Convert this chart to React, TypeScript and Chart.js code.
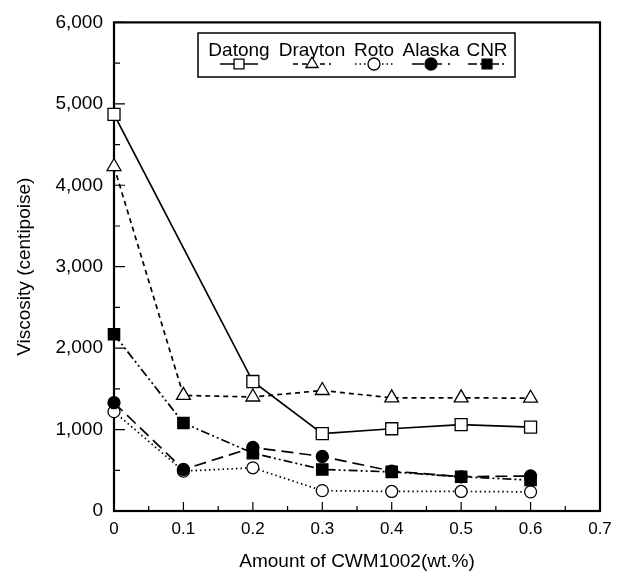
import React, { useEffect, useRef } from 'react';
import { Chart, registerables } from 'chart.js';

Chart.register(...registerables);

const seriesNames = ['Datong', 'Drayton', 'Roto', 'Alaska', 'CNR'];
const datongX = [0, 0.2, 0.3, 0.4, 0.5, 0.6];
const datongY = [4870, 1590, 950, 1010, 1060, 1030];
const commonX = [0, 0.1, 0.2, 0.3, 0.4, 0.5, 0.6];
const draytonY = [4230, 1420, 1400, 1480, 1390, 1390, 1385];
const rotoY = [1220, 490, 530, 250, 240, 240, 235];
const alaskaY = [1330, 510, 780, 670, 490, 420, 430];
const cnrY = [2170, 1080, 710, 510, 480, 420, 380];

const xTicks = [0, 0.1, 0.2, 0.3, 0.4, 0.5, 0.6, 0.7];
const xTickLabels = ['0', '0.1', '0.2', '0.3', '0.4', '0.5', '0.6', '0.7'];
const yTicks = [0, 1000, 2000, 3000, 4000, 5000, 6000];
const yTickLabels = ['0', '1,000', '2,000', '3,000', '4,000', '5,000', '6,000'];

const FONT = '"Liberation Sans", Arial, Helvetica, sans-serif';

type Style = {
  dash: number[];
  point: string;
  fill: string;
  radius: number;
  order: number;
};

const styles: Style[] = [
  { dash: [], point: 'rect', fill: '#fff', radius: 8.5, order: 2 },
  { dash: [5, 4], point: 'triangle', fill: '#fff', radius: 8, order: 3 },
  { dash: [1.5, 3], point: 'circle', fill: '#fff', radius: 6, order: 4 },
  { dash: [12, 6], point: 'circle', fill: '#000', radius: 6, order: 0 },
  { dash: [9, 3, 2, 3, 2, 3], point: 'rect', fill: '#000', radius: 8, order: 1 },
];

function pts(xs: number[], ys: number[]) {
  return xs.map((x, i) => ({ x, y: ys[i] }));
}

function drawMarker(ctx: CanvasRenderingContext2D, kind: string, x: number, y: number, r: number, fill: string) {
  ctx.save();
  ctx.setLineDash([]);
  ctx.fillStyle = fill;
  ctx.strokeStyle = '#000';
  ctx.lineWidth = 1.3;
  ctx.beginPath();
  if (kind === 'rect') {
    const s = Math.SQRT1_2 * r;
    ctx.rect(x - s, y - s, 2 * s, 2 * s);
  } else if (kind === 'triangle') {
    for (let k = 0; k < 3; k++) {
      const ang = -Math.PI / 2 + (k * 2 * Math.PI) / 3;
      const px = x + r * Math.cos(ang);
      const py = y + r * Math.sin(ang);
      if (k === 0) ctx.moveTo(px, py);
      else ctx.lineTo(px, py);
    }
    ctx.closePath();
  } else {
    ctx.arc(x, y, r, 0, Math.PI * 2);
  }
  ctx.fill();
  ctx.stroke();
  ctx.restore();
}

const axesPlugin = {
  id: 'axesFrame',
  beforeDatasetsDraw(chart: any) {
    const { ctx, chartArea: a, scales } = chart;
    const xs = scales.x;
    const ys = scales.y;
    ctx.save();
    ctx.strokeStyle = '#000';
    ctx.lineWidth = 2.2;
    ctx.strokeRect(a.left, a.top, a.right - a.left, a.bottom - a.top);
    ctx.lineWidth = 1.2;
    ctx.beginPath();
    for (let i = 0; i < yTicks.length; i++) {
      const py = ys.getPixelForValue(yTicks[i]);
      ctx.moveTo(a.left, py);
      ctx.lineTo(a.left + 11, py);
      if (i < yTicks.length - 1) {
        const pm = ys.getPixelForValue((yTicks[i] + yTicks[i + 1]) / 2);
        ctx.moveTo(a.left, pm);
        ctx.lineTo(a.left + 6, pm);
      }
    }
    for (let i = 0; i < xTicks.length; i++) {
      const px = xs.getPixelForValue(xTicks[i]);
      ctx.moveTo(px, a.bottom);
      ctx.lineTo(px, a.bottom - 9);
      if (i < xTicks.length - 1) {
        const pm = xs.getPixelForValue((xTicks[i] + xTicks[i + 1]) / 2);
        ctx.moveTo(pm, a.bottom);
        ctx.lineTo(pm, a.bottom - 5);
      }
    }
    ctx.stroke();
    ctx.restore();
  },
};

const legendPlugin = {
  id: 'customLegend',
  afterDraw(chart: any) {
    const { ctx } = chart;
    const box = { x: 198, y: 33, w: 317, h: 44 };
    const centers = [239, 312, 374, 431, 487];
    ctx.save();
    ctx.fillStyle = '#fff';
    ctx.fillRect(box.x, box.y, box.w, box.h);
    ctx.strokeStyle = '#000';
    ctx.lineWidth = 1.5;
    ctx.strokeRect(box.x, box.y, box.w, box.h);
    ctx.fillStyle = '#000';
    ctx.font = `19px ${FONT}`;
    ctx.textAlign = 'center';
    ctx.textBaseline = 'alphabetic';
    seriesNames.forEach((name, i) => {
      ctx.fillText(name, centers[i], 56);
    });
    seriesNames.forEach((_, i) => {
      const st = styles[i];
      const cx = centers[i];
      ctx.save();
      ctx.lineWidth = 1.6;
      ctx.setLineDash(st.dash);
      ctx.beginPath();
      ctx.moveTo(cx - 19, 64);
      ctx.lineTo(cx + 19, 64);
      ctx.stroke();
      ctx.restore();
      drawMarker(ctx, st.point, cx, 64, st.point === 'triangle' ? 7 : st.point === 'rect' ? 7 : 6, st.fill);
    });
    ctx.restore();
  },
};

export default function App() {
  const ref = useRef<HTMLCanvasElement | null>(null);

  useEffect(() => {
    if (!ref.current) return;
    const ys = [datongY, draytonY, rotoY, alaskaY, cnrY];
    const xsArr = [datongX, commonX, commonX, commonX, commonX];
    const datasets = seriesNames.map((name, i) => ({
      label: name,
      data: pts(xsArr[i], ys[i]),
      borderColor: '#000',
      borderWidth: 1.7,
      borderDash: styles[i].dash,
      pointStyle: styles[i].point,
      pointRadius: styles[i].radius,
      pointBackgroundColor: styles[i].fill,
      pointBorderColor: '#000',
      pointBorderWidth: 1.3,
      fill: false,
      tension: 0,
      clip: false as any,
      order: styles[i].order,
    }));

    const chart = new Chart(ref.current, {
      type: 'line',
      data: { datasets },
      plugins: [axesPlugin, legendPlugin],
      options: {
        animation: false,
        responsive: false,
        maintainAspectRatio: false,
        layout: { padding: { left: 0, top: 16, right: 27, bottom: 0 } },
        plugins: { legend: { display: false }, tooltip: { enabled: false } },
        scales: {
          x: {
            type: 'linear',
            min: 0,
            max: 0.7,
            grid: { display: false, drawTicks: false },
            border: { display: false },
            afterBuildTicks: (scale: any) => {
              scale.ticks = xTicks.map((v) => ({ value: v }));
            },
            afterFit: (scale: any) => {
              scale.height = 64;
            },
            ticks: {
              padding: 8,
              color: '#000',
              font: { family: FONT, size: 17 },
              maxRotation: 0,
              autoSkip: false,
              callback: (_v: any, i: number) => xTickLabels[i],
            },
            title: {
              display: true,
              text: 'Amount of CWM1002(wt.%)',
              color: '#000',
              font: { family: FONT, size: 19 },
              padding: { top: 0, bottom: 2 },
            },
          },
          y: {
            type: 'linear',
            min: 0,
            max: 6000,
            grid: { display: false, drawTicks: false },
            border: { display: false },
            afterBuildTicks: (scale: any) => {
              scale.ticks = yTicks.map((v) => ({ value: v }));
            },
            afterFit: (scale: any) => {
              scale.width = 114;
            },
            ticks: {
              padding: 11,
              color: '#000',
              font: { family: FONT, size: 19 },
              autoSkip: false,
              callback: (_v: any, i: number) => yTickLabels[i],
            },
            title: {
              display: true,
              text: 'Viscosity (centipoise)',
              color: '#000',
              font: { family: FONT, size: 19 },
              padding: { top: 13, bottom: 0 },
            },
          },
        },
      },
    });
    return () => chart.destroy();
  }, []);

  return (
    <div style={{ position: 'fixed', left: 0, top: 0, width: 627, height: 575, background: '#fff' }}>
      <canvas ref={ref} width={627} height={575} style={{ width: 627, height: 575, display: 'block' }} />
    </div>
  );
}
